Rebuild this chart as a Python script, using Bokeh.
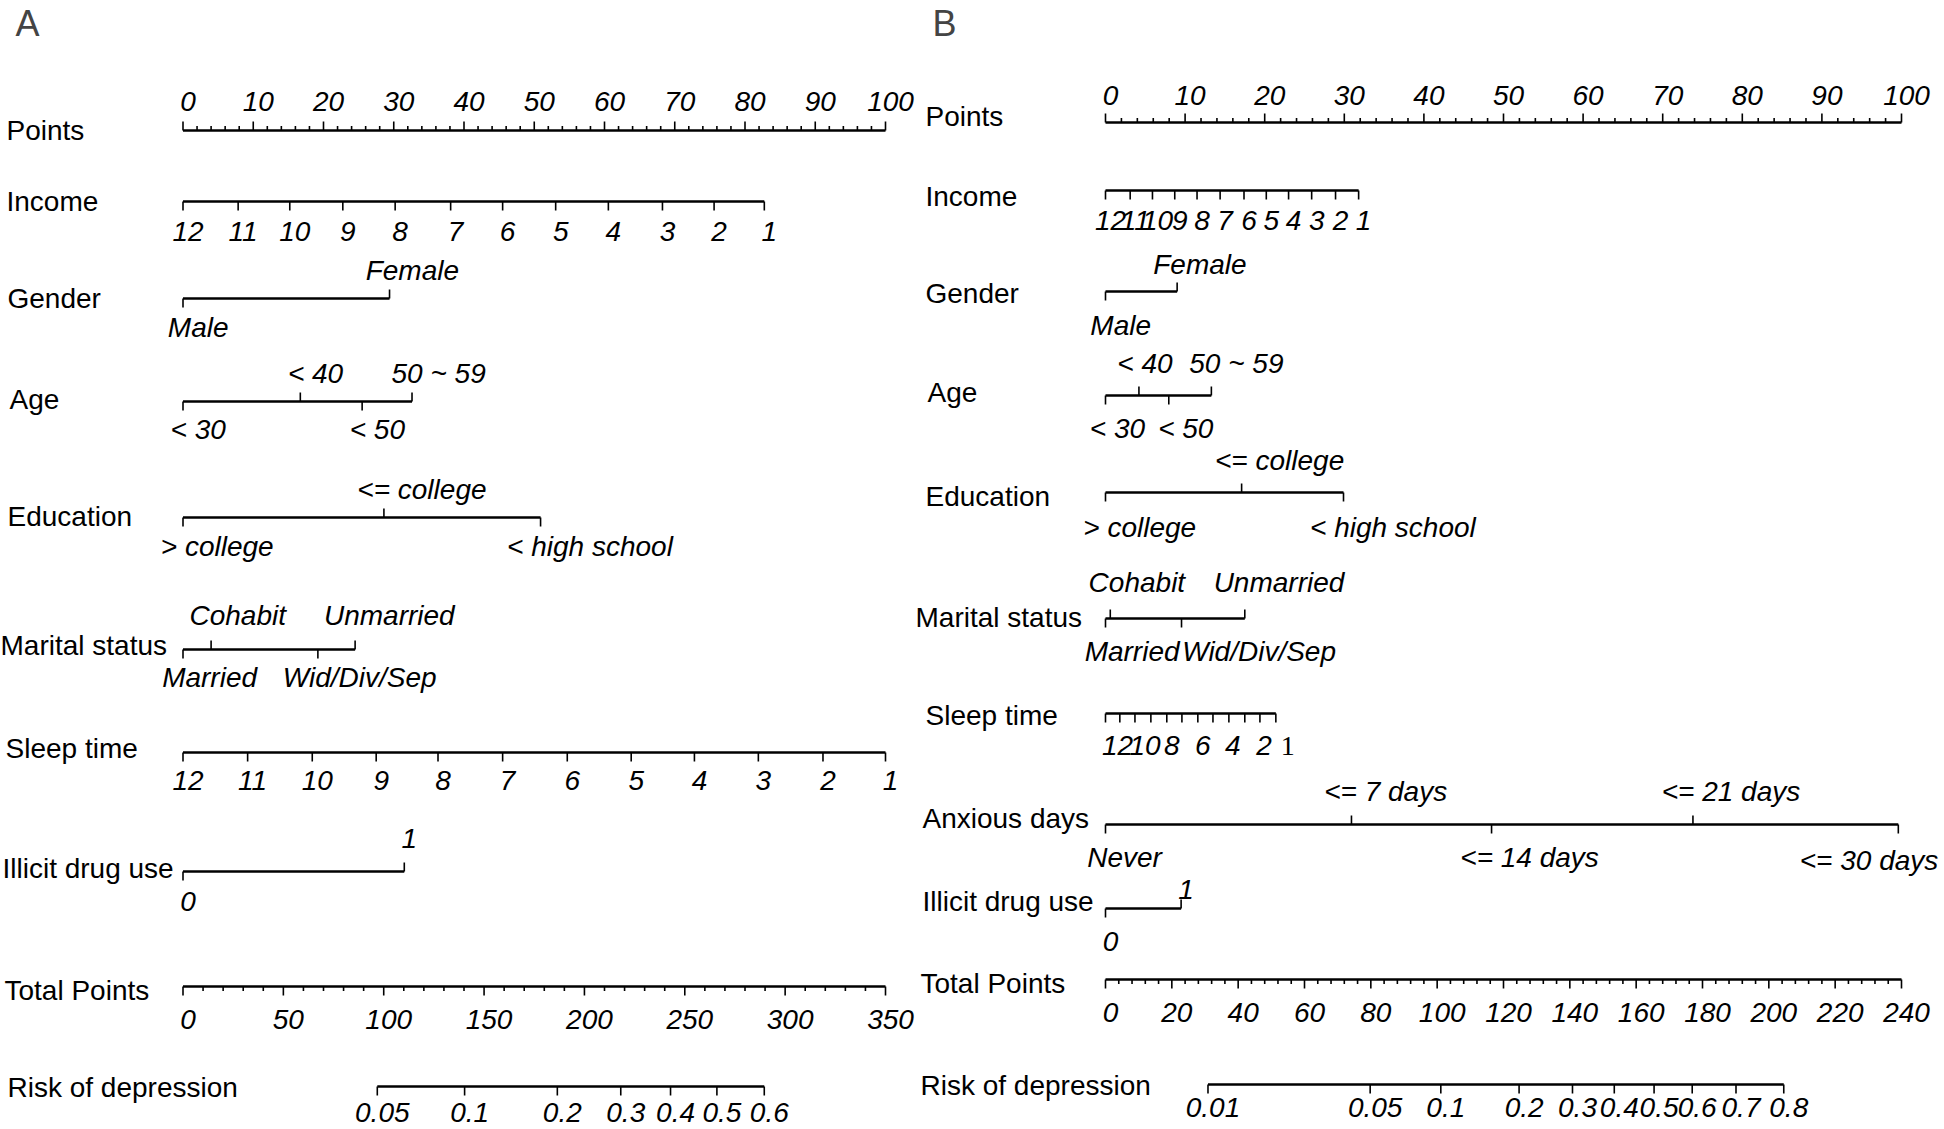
from bokeh.plotting import figure
from bokeh.models import Range1d, Label
from bokeh.embed import file_html
from bokeh.resources import INLINE
from bokeh.core.properties import value

# ---------------- data : panel A ----------------
A_points_ticks = [0, 10, 20, 30, 40, 50, 60, 70, 80, 90, 100]
A_income_lab = ["12", "11", "10", "9", "8", "7", "6", "5", "4", "3", "2", "1"]
A_income_pts = [0, 7.85, 15.2, 22.75, 30.2, 38.1, 45.5, 53.05, 60.55, 68.25, 75.6, 82.75]
A_gender_lab = ["Male", "Female"]
A_gender_pts = [0, 29.4]
A_age_lab = ["< 30", "< 40", "< 50", "50 ~ 59"]
A_age_pts = [0, 16.7, 25.5, 32.6]
A_edu_lab = ["> college", "<= college", "< high school"]
A_edu_pts = [0, 28.6, 50.9]
A_mar_lab = ["Married", "Cohabit", "Wid/Div/Sep", "Unmarried"]
A_mar_pts = [0, 4.0, 19.2, 24.5]
A_sleep_lab = ["12", "11", "10", "9", "8", "7", "6", "5", "4", "3", "2", "1"]
A_sleep_pts = [0, 9.2, 18.4, 27.5, 36.3, 45.5, 54.7, 63.8, 72.8, 81.9, 91.1, 100]
A_drug_lab = ["0", "1"]
A_drug_pts = [0, 31.5]
A_total_ticks = [0, 50, 100, 150, 200, 250, 300, 350]
A_risk_lab = ["0.05", "0.1", "0.2", "0.3", "0.4", "0.5", "0.6"]
A_risk_total = [96.8, 140.3, 186.5, 218.1, 242.9, 266.0, 289.6]

# ---------------- data : panel B ----------------
B_points_ticks = [0, 10, 20, 30, 40, 50, 60, 70, 80, 90, 100]
B_income_lab = ["12", "11", "10", "9", "8", "7", "6", "5", "4", "3", "2", "1"]
B_income_pts = [0, 3.1, 5.9, 8.7, 11.5, 14.4, 17.4, 20.2, 23.0, 25.9, 28.9, 31.8]
B_gender_lab = ["Male", "Female"]
B_gender_pts = [0, 9.0]
B_age_lab = ["< 30", "< 40", "< 50", "50 ~ 59"]
B_age_pts = [0, 4.2, 7.95, 13.3]
B_edu_lab = ["> college", "<= college", "< high school"]
B_edu_pts = [0, 17.1, 29.9]
B_mar_lab = ["Married", "Cohabit", "Wid/Div/Sep", "Unmarried"]
B_mar_pts = [0, 0.6, 9.55, 17.5]
B_sleep_lab = ["12", "", "10", "", "8", "", "6", "", "4", "", "2", "1"]
B_sleep_pts = [0, 1.8, 3.7, 5.7, 7.7, 9.6, 11.6, 13.5, 15.5, 17.5, 19.4, 21.4]
B_anx_lab = ["Never", "<= 7 days", "<= 14 days", "<= 21 days", "<= 30 days"]
B_anx_pts = [0, 30.9, 48.5, 73.8, 99.6]
B_drug_lab = ["0", "1"]
B_drug_pts = [0, 9.5]
B_total_ticks = [0, 20, 40, 60, 80, 100, 120, 140, 160, 180, 200, 220, 240]
B_risk_lab = ["0.01", "0.05", "0.1", "0.2", "0.3", "0.4", "0.5", "0.6", "0.7", "0.8"]
B_risk_total = [30.9, 79.8, 101.1, 124.7, 140.8, 153.4, 165.4, 176.9, 190.1, 204.5]

# ---------------- style / layout ----------------
FONT = "Liberation Sans"
FS = "28px"
TL = 9
W, H = 1944, 1129

# page-pixel position of points 0 and 100 in each panel
A_px0, A_px100 = 182.5, 885.0
B_px0, B_px100 = 1105.0, 1901.0
sa = (A_px100 - A_px0) / 100
sb = (B_px100 - B_px0) / 100
ax0, ax1 = (0 - A_px0) / sa, (W - A_px0) / sa
bx0, bx1 = (0 - B_px0) / sb, (W - B_px0) / sb

p = figure(width=W, height=H, x_range=Range1d(ax0, ax1), y_range=Range1d(H, 0),
           output_backend="svg", toolbar_location=None,
           x_axis_location=None, y_axis_location=None, min_border=0,
           outline_line_color=None)
p.extra_x_ranges = {
    "Atot": Range1d(ax0 * 3.5, ax1 * 3.5),
    "B": Range1d(bx0, bx1),
    "Btot": Range1d(bx0 * 2.4, bx1 * 2.4),
}
p.grid.visible = False
p.background_fill_color = "white"
p.border_fill_color = "white"


def kw(rn):
    return {} if rn is None else {"x_range_name": rn}


def hline(xs, y, rn=None):
    p.segment(x0=[min(xs)], x1=[max(xs)], y0=[y], y1=[y], line_color="black",
              line_width=2.5, **kw(rn))


def ticks(xs, y, dirs, length=TL, rn=None):
    y1 = [y - length if d == "up" else y + length for d in dirs]
    p.segment(x0=xs, x1=xs, y0=[y] * len(xs), y1=y1, line_color="black",
              line_width=1.6, **kw(rn))


def labels(xs, y, texts, dirs, gu, gd, offs, rn=None, font=FONT, style="italic"):
    ys = [y - gu if d == "up" else y + gd for d in dirs]
    p.text(x=xs, y=ys, text=texts, x_offset=offs, text_align="center",
           text_baseline="middle", text_font=value(font), text_font_style=style,
           text_font_size=FS, text_color="black", **kw(rn))


def cat_off(texts):
    return [3.8 * len(t) for t in texts]


def num_off(texts):
    return [5] * len(texts)


def row_name(x, y, t):
    p.add_layout(Label(x=x, y=H - y, x_units="screen", y_units="screen", text=t,
                       text_baseline="middle", text_font=FONT, text_font_size=FS,
                       text_color="black"))


def points_axis(ticks_major, y, minor_step, direction, rn=None):
    lo, hi = min(ticks_major), max(ticks_major)
    minors = []
    v = lo
    while v < hi:
        if v not in ticks_major:
            minors.append(v)
        v += minor_step
    hline(ticks_major, y, rn)
    ticks(ticks_major, y, [direction] * len(ticks_major), TL, rn)
    ticks(minors, y, [direction] * len(minors), 4.5, rn)


def cat_row(xs, y, texts, dirs, gu, gd, offs=None, rn=None):
    hline(xs, y, rn)
    ticks(xs, y, dirs, TL, rn)
    labels(xs, y, texts, dirs, gu, gd, offs if offs is not None else cat_off(texts), rn)


# ================= panel A =================
y = 130
points_axis(A_points_ticks, y, 2, "up")
labels(A_points_ticks, y, [str(t) for t in A_points_ticks], ["up"] * 11, 29, 0,
       num_off(A_points_ticks))
cat_row(A_income_pts, 201, A_income_lab, ["down"] * 12, 0, 30, num_off(A_income_lab))
cat_row(A_gender_pts, 298, A_gender_lab, ["down", "up"], 28, 29)
cat_row(A_age_pts, 401, A_age_lab, ["down", "up", "down", "up"], 28, 28)
cat_row(A_edu_pts, 517, A_edu_lab, ["down", "up", "down"], 28, 29)
cat_row(A_mar_pts, 649, A_mar_lab, ["down", "up", "down", "up"], 34, 28)
cat_row(A_sleep_pts, 752, A_sleep_lab, ["down"] * 12, 0, 28, num_off(A_sleep_lab))
cat_row(A_drug_pts, 871, A_drug_lab, ["down", "up"], 33, 30, num_off(A_drug_lab))
y = 986
points_axis(A_total_ticks, y, 10, "down", "Atot")
labels(A_total_ticks, y, [str(t) for t in A_total_ticks], ["down"] * len(A_total_ticks),
       0, 33, num_off(A_total_ticks), "Atot")
cat_row(A_risk_total, 1086, A_risk_lab, ["down"] * len(A_risk_lab), 0, 26,
        num_off(A_risk_lab), "Atot")

A_names = ["Points", "Income", "Gender", "Age", "Education", "Marital status",
           "Sleep time", "Illicit drug use", "Total Points", "Risk of depression"]
A_name_y = [130, 201, 298, 399, 516, 645, 748, 868, 990, 1087]
A_name_x = [6, 6, 7, 9, 7, 0, 5, 2, 4, 7]
for t, xx, yy in zip(A_names, A_name_x, A_name_y):
    row_name(xx, yy, t)
p.add_layout(Label(x=15, y=H - 23, x_units="screen", y_units="screen", text="A",
                   text_baseline="middle", text_font=FONT, text_font_size="36px"))

# ================= panel B =================
y = 122
points_axis(B_points_ticks, y, 2, "up", "B")
labels(B_points_ticks, y, [str(t) for t in B_points_ticks], ["up"] * 11, 27, 0,
       num_off(B_points_ticks), "B")
cat_row(B_income_pts, 190, B_income_lab, ["down"] * 12, 0, 30, num_off(B_income_lab), "B")
cat_row(B_gender_pts, 291, B_gender_lab, ["down", "up"], 27, 34, None, "B")
cat_row(B_age_pts, 395, B_age_lab, ["down", "up", "down", "up"], 32, 33,
        [12, 6, 17, 25], "B")
cat_row(B_edu_pts, 492, B_edu_lab, ["down", "up", "down"], 32, 35, None, "B")
mar_off = cat_off(B_mar_lab)
mar_off[2] = 3.8 * len(B_mar_lab[2]) * 2 - 6
cat_row(B_mar_pts, 618, B_mar_lab, ["down", "up", "down", "up"], 36, 33, mar_off, "B")

y = 713
hline(B_sleep_pts, y, "B")
ticks(B_sleep_pts, y, ["down"] * 12, TL, "B")
labels(B_sleep_pts[:-1], y, B_sleep_lab[:-1], ["down"] * 11, 0, 32,
       [12, 0, 10, 0, 5, 0, 5, 0, 4, 0, 4], "B")
labels(B_sleep_pts[-1:], y, B_sleep_lab[-1:], ["down"], 0, 32, [12], "B",
       font="Liberation Serif", style="normal")

y = 824
anx_dirs = ["down", "up", "down", "up", "down"]
hline(B_anx_pts, y, "B")
ticks(B_anx_pts, y, anx_dirs, TL, "B")
labels(B_anx_pts[:-1], y, B_anx_lab[:-1], anx_dirs[:-1], 33, 33,
       cat_off(B_anx_lab[:-1]), "B")
p.text(x=B_anx_pts[-1:], y=[y + 36], text=B_anx_lab[-1:], x_offset=[40],
       text_align="right", text_baseline="middle", text_font=value(FONT),
       text_font_style="italic", text_font_size=FS, text_color="black", x_range_name="B")

cat_row(B_drug_pts, 908, B_drug_lab, ["down", "up"], 19, 33, num_off(B_drug_lab), "B")
y = 979
points_axis(B_total_ticks, y, 4, "down", "Btot")
labels(B_total_ticks, y, [str(t) for t in B_total_ticks], ["down"] * len(B_total_ticks),
       0, 33, num_off(B_total_ticks), "Btot")
cat_row(B_risk_total, 1084, B_risk_lab, ["down"] * len(B_risk_lab), 0, 23,
        num_off(B_risk_lab), "Btot")

B_names = ["Points", "Income", "Gender", "Age", "Education", "Marital status",
           "Sleep time", "Anxious days", "Illicit drug use", "Total Points", "Risk of depression"]
B_name_y = [116, 196, 293, 392, 496, 617, 715, 818, 901, 983, 1085]
B_name_x = [925, 925, 925, 927, 925, 915, 925, 922, 922, 920, 920]
for t, xx, yy in zip(B_names, B_name_x, B_name_y):
    row_name(xx, yy, t)
p.add_layout(Label(x=932, y=H - 23, x_units="screen", y_units="screen", text="B",
                   text_baseline="middle", text_font=FONT, text_font_size="36px"))

open("out.html", "w").write(file_html(p, INLINE))
